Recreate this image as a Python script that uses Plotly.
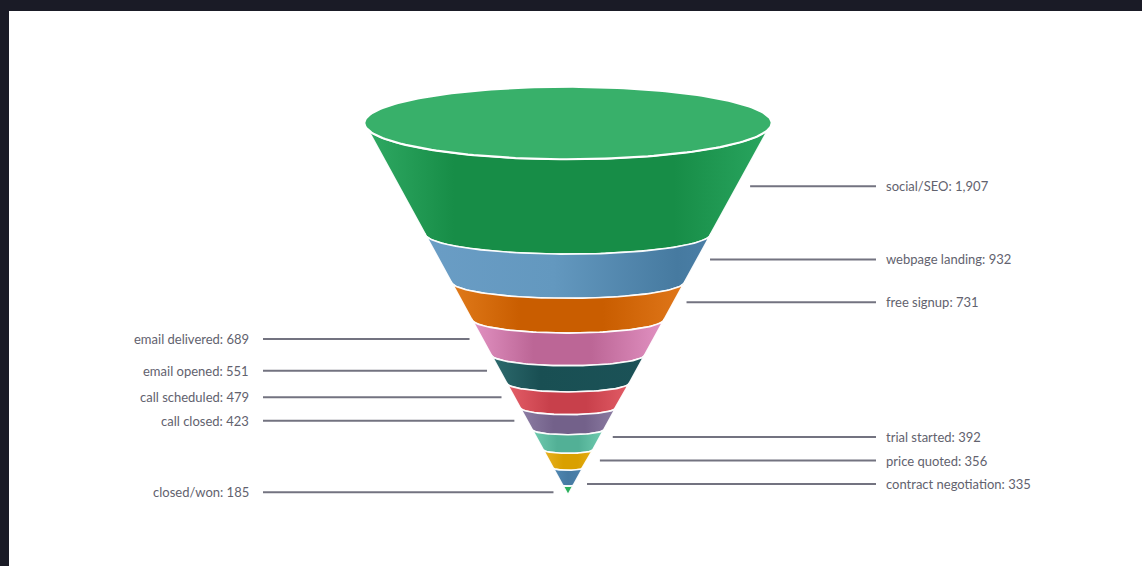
import numpy as np
import plotly.graph_objects as go

# ---------------- data ----------------
stages = ["social/SEO", "webpage landing", "free signup", "email delivered",
          "email opened", "call scheduled", "call closed", "trial started",
          "price quoted", "contract negotiation", "closed/won"]
values = [1907, 932, 731, 689, 551, 479, 423, 392, 356, 335, 185]
label_side = ["right", "right", "right", "left", "left", "left", "left",
              "right", "right", "right", "left"]

# ---------------- styles ----------------
colorscales = [
    [[0, "#30aa64"], [0.22, "#178d47"], [0.76, "#178d47"], [1, "#2aa660"]],
    [[0, "#6a9dc5"], [0.45, "#6398bf"], [0.88, "#467aa0"], [1, "#4a7ea6"]],
    [[0, "#e07a1a"], [0.3, "#c95d00"], [0.65, "#c95d00"], [1, "#e0771a"]],
    [[0, "#e292c2"], [0.32, "#bc6696"], [0.62, "#bc6696"], [1, "#e292c2"]],
    [[0, "#2e6b6e"], [0.32, "#194f53"], [1, "#1b5257"]],
    [[0, "#e45e68"], [0.35, "#c8404b"], [0.65, "#c8404b"], [1, "#e25c66"]],
    [[0, "#8d7ea4"], [0.35, "#73618a"], [0.68, "#73618a"], [1, "#8c7ca2"]],
    [[0, "#70ccb0"], [0.35, "#52b096"], [0.65, "#52b096"], [1, "#70ccb0"]],
    [[0, "#e9b224"], [0.4, "#d9a000"], [0.7, "#d9a000"], [1, "#e6ae16"]],
    [[0, "#5087b2"], [0.5, "#467aa3"], [1, "#4b80aa"]],
    [[0, "#2bb05c"], [1, "#2bb05c"]],
]
cap_color = "#38b06a"
text_color = "#62626e"
leader_color = "#737380"

# ---------------- layout geometry (pixels) ----------------
W, H = 1142, 566
ML, MT = 9, 11
CX = 568            # cone axis
CAP_Y = 123         # centre of the top cap ellipse
STACK_TOP, STACK_BOT = 135, 495   # where cumulative 0 and total fall
APEX = 495
R0 = 203.7          # cap radius
TILT_TOP, TILT = 0.178, 0.145
GAP = 13
LABEL_SHIFT_PX = 2
MIN_SPACING = 23.5

total = float(sum(values))
k = (STACK_BOT - STACK_TOP) / total  # pixels per value unit
v_cap = (CAP_Y - STACK_TOP) / k


def px(v):
    return STACK_TOP + k * v


def radius(v):
    return R0 * (APEX - px(v)) / (APEX - CAP_Y)


def ry(r, top=False):
    return (TILT_TOP if top else TILT) * r / k


cum = np.concatenate([[0], np.cumsum(values)])
theta = np.linspace(0, np.pi, 90)

fig = go.Figure()
for i, (name, val) in enumerate(zip(stages, values)):
    v0 = v_cap if i == 0 else cum[i]
    v1 = cum[i + 1]
    r0 = R0 if i == 0 else radius(v0)
    r1 = radius(v1)
    e0, e1 = ry(r0, top=(i == 0)), ry(r1)
    th_rev = theta[::-1]
    xs = np.concatenate([r0 * np.cos(th_rev), r1 * np.cos(theta)])
    ys = np.concatenate([v0 + e0 * np.sin(th_rev), v1 + e1 * np.sin(theta)])
    xs = np.append(xs, xs[0])
    ys = np.append(ys, ys[0])
    fig.add_trace(go.Scatter(
        x=xs, y=ys, mode="lines", fill="toself",
        fillgradient=dict(type="horizontal", colorscale=colorscales[i]),
        line=dict(color="rgba(255,255,255,0.95)", width=1.6),
        hoverinfo="text", text=f"{name}: {val:,}", showlegend=False))

# top cap
phi = np.linspace(0, 2 * np.pi, 200)
ecap = ry(R0, top=True)
fig.add_trace(go.Scatter(
    x=R0 * np.cos(phi), y=v_cap + ecap * np.sin(phi), mode="lines", fill="toself",
    fillcolor=cap_color, line=dict(color="white", width=2.2),
    hoverinfo="skip", showlegend=False))

# desired label positions: segment middles (in value units)
mids = [(cum[i] + cum[i + 1]) / 2 + LABEL_SHIFT_PX / k for i in range(len(values))]
spacing = MIN_SPACING / k


def relax(desired):
    """Cluster-based label de-overlap keeping each cluster centred."""
    clusters = [[d] for d in desired]
    changed = True
    while changed:
        changed = False
        pos = []
        for c in clusters:
            centre = np.mean(c)
            n = len(c)
            pos.append([centre + (j - (n - 1) / 2) * spacing for j in range(n)])
        for j in range(len(clusters) - 1):
            if pos[j + 1][0] - pos[j][-1] < spacing - 1e-9:
                clusters[j] = clusters[j] + clusters[j + 1]
                del clusters[j + 1]
                changed = True
                break
    out = []
    for c in clusters:
        centre = np.mean(c)
        n = len(c)
        out += [centre + (j - (n - 1) / 2) * spacing for j in range(n)]
    return out


text_pos = {}
for side in ("left", "right"):
    idx = [i for i in range(len(stages)) if label_side[i] == side]
    for i, y in zip(idx, relax([mids[i] for i in idx])):
        text_pos[i] = y

lx, ly = [], []
annotations = []
for i, name in enumerate(stages):
    y = text_pos[i]
    r = radius(y)
    if label_side[i] == "right":
        lx += [r + GAP, 876 - CX, None]
        tx, anchor = 884 - CX, "left"
    else:
        lx += [263 - CX, -(r + GAP), None]
        tx, anchor = 251 - CX, "right"
    ly += [y, y, None]
    annotations.append(dict(
        x=tx, y=y, xref="x", yref="y", text=f"{name}: {values[i]:,}",
        showarrow=False, xanchor=anchor, yanchor="middle",
        font=dict(family="Lato", size=13, color=text_color)))

fig.add_trace(go.Scatter(x=lx, y=ly, mode="lines",
                         line=dict(color=leader_color, width=2),
                         hoverinfo="skip", showlegend=False))

fig.update_layout(
    width=W, height=H,
    margin=dict(l=ML, t=MT, r=0, b=0, pad=0),
    paper_bgcolor="#1a1b26", plot_bgcolor="white",
    xaxis=dict(range=[ML - CX, W - CX], visible=False, fixedrange=True),
    yaxis=dict(range=[(H - STACK_TOP) / k, (MT - STACK_TOP) / k],
               visible=False, fixedrange=True),
    annotations=annotations,
)

fig.write_html("out.html")
